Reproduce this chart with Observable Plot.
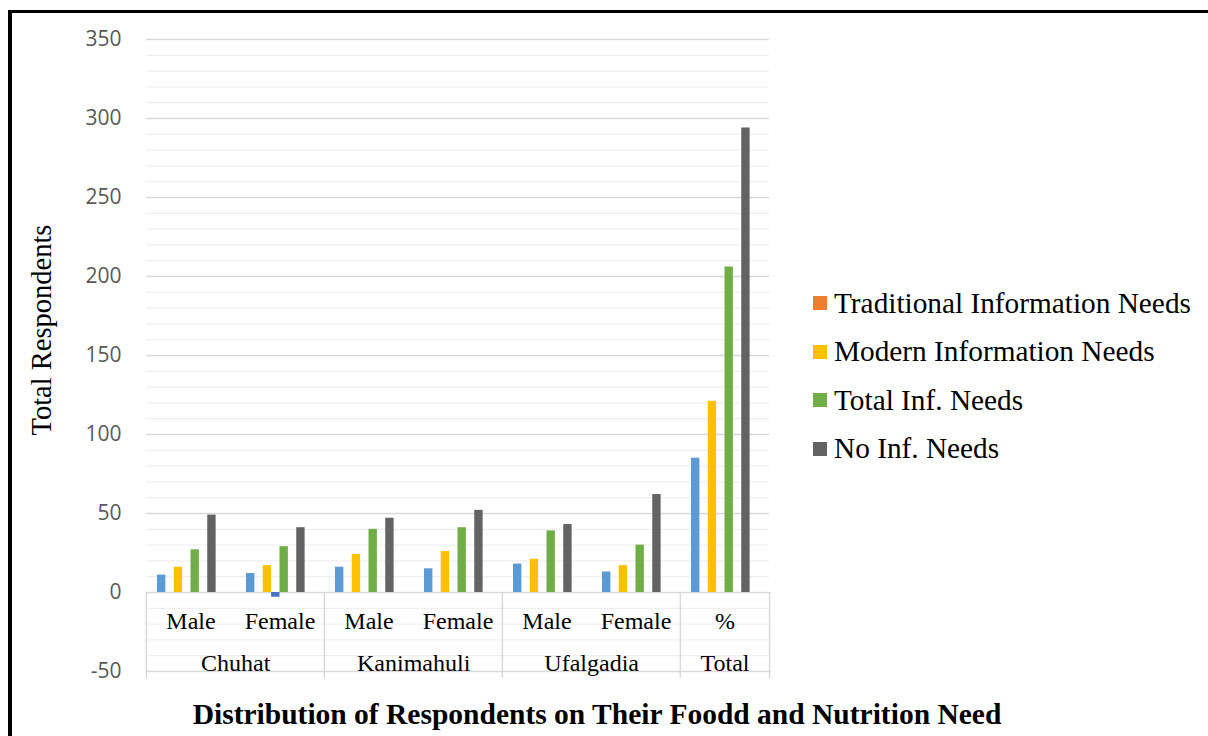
<!DOCTYPE html>
<html>
<head>
<meta charset="utf-8">
<script src="https://cdn.jsdelivr.net/npm/d3@7"></script>
<script src="https://cdn.jsdelivr.net/npm/@observablehq/plot@0.6"></script>
<style>
  body { margin: 0; background: #fff; }
  #chart { position: relative; width: 1208px; height: 736px; overflow: hidden; background: #fff; }
  #chart svg { display: block; }
  .frame-line { position: absolute; left: 8px; top: 10px; right: 0; bottom: 0;
    border-left: 4px solid #000; border-top: 3px solid #000; pointer-events: none; }
  #ylabel { position: absolute; left: 42px; top: 330px; transform: translate(-50%, -50%) rotate(-90deg);
    font-family: "Liberation Serif", serif; font-size: 28.5px; line-height: 1; white-space: nowrap; color: #000; }
  #legend { position: absolute; left: 813px; top: 279px; font-family: "Liberation Serif", serif;
    font-size: 29.3px; color: #000; }
  #legend .row { display: flex; align-items: center; height: 48.5px; }
  #legend .sw { width: 14px; height: 14px; margin-right: 7px; flex: none; }
  #legend .txt { line-height: 1; white-space: nowrap; }
  #title { position: absolute; left: 0; width: 1194px; top: 700px; text-align: center;
    font-family: "Liberation Serif", serif; font-weight: bold; font-size: 29.5px; line-height: 1;
    white-space: nowrap; color: #000; }
</style>
</head>
<body>
<div id="chart">
  <div id="plot"></div>
  <div id="ylabel">Total Respondents</div>
  <div id="legend"></div>
  <div id="title">Distribution of Respondents on Their Foodd and Nutrition Need</div>
  <div class="frame-line"></div>
</div>
<script>
// Respondents by union and gender, plus the overall total
const groups    = ["Chuhat", "Chuhat", "Kanimahuli", "Kanimahuli", "Ufalgadia", "Ufalgadia", "Total"];
const subgroups = ["Male", "Female", "Male", "Female", "Male", "Female", "%"];

const traditional = [11, 12, 16, 15, 18, 13, 85];
const modern      = [16, 17, 24, 26, 21, 17, 121];
const totalNeeds  = [27, 29, 40, 41, 39, 30, 206];
const noNeeds     = [49, 41, 47, 52, 43, 62, 294];
const unlabelled  = [0, -3, 0, 0, 0, 0, 0];

const legendNames  = ["Traditional Information Needs", "Modern Information Needs", "Total Inf. Needs", "No Inf. Needs"];
const legendColors = ["#ED7D31", "#FFC000", "#70AD47", "#636363"];

const yMajorTicks = [-50, 0, 50, 100, 150, 200, 250, 300, 350];
const yMinorTicks = d3.range(-50, 351, 10).filter(v => v % 50 !== 0);

// Slots inside each category band (empty slots keep the spacing between bars)
const slots = ["traditional", "gapA", "modern", "unlabelled", "total", "gapB", "none", "gapC"];
const seriesColors = {
  traditional: "#5B9BD5",
  modern: "#FFC000",
  unlabelled: "#4472C4",
  total: "#70AD47",
  none: "#636363"
};

const keys = subgroups.map((s, i) => `${groups[i]}|${s}`);

const bars = [];
keys.forEach((key, i) => {
  bars.push({key, series: "traditional", value: traditional[i]});
  bars.push({key, series: "modern", value: modern[i]});
  if (unlabelled[i] !== 0) bars.push({key, series: "unlabelled", value: unlabelled[i]});
  bars.push({key, series: "total", value: totalNeeds[i]});
  bars.push({key, series: "none", value: noNeeds[i]});
});

const subLabels = keys.map((key, i) => ({key, text: subgroups[i]}));

// First category of each group, and how many categories the group spans
const groupLabels = [];
keys.forEach((key, i) => {
  if (i === 0 || groups[i] !== groups[i - 1]) groupLabels.push({key, text: groups[i], span: 1});
  else groupLabels[groupLabels.length - 1].span++;
});
const groupStarts = groupLabels.map(g => g.key);

const width = 1208, marginLeft = 145, marginRight = 438;
const bandWidth = (width - marginLeft - marginRight) / keys.length;
const serif = "Liberation Serif";
const tableStroke = "#d9d9d9";

const plot = Plot.plot({
  width,
  height: 690,
  marginLeft,
  marginRight,
  marginTop: 39,
  marginBottom: 19,
  style: {fontFamily: "Open Sans", fontSize: "20px", background: "transparent", overflow: "visible"},
  fx: {domain: keys, padding: 0, axis: null},
  x: {domain: slots, padding: 0, inset: 11, round: false, axis: null},
  y: {domain: [-50, 350]},
  color: {domain: Object.keys(seriesColors), range: Object.values(seriesColors)},
  marks: [
    Plot.gridY(yMinorTicks, {stroke: "#efefef", strokeOpacity: 1, strokeWidth: 1.3}),
    Plot.gridY(yMajorTicks, {stroke: tableStroke, strokeOpacity: 1, strokeWidth: 1.3}),
    Plot.axisY(yMajorTicks, {tickSize: 0, tickPadding: 25, tickFormat: d => String(d), color: "#595959", fontSize: 21, fontFamily: "Open Sans", label: null}),
    // category table borders below the zero line
    Plot.ruleX(groupStarts, {fx: d => d, x: null, y1: 0, y2: -50, insetBottom: -7, dx: -bandWidth / 2, stroke: tableStroke, strokeWidth: 1.5}),
    Plot.ruleX([keys[keys.length - 1]], {fx: d => d, x: null, y1: 0, y2: -50, insetBottom: -7, dx: bandWidth / 2, stroke: tableStroke, strokeWidth: 1.5}),
    Plot.barY(bars, {fx: "key", x: "series", y1: 0, y2: "value", fill: "series"}),
    Plot.text(subLabels, {fx: "key", text: "text", y: -18, fontFamily: serif, fontSize: 24, fill: "#000"}),
    Plot.text(groupLabels.filter(g => g.span > 1), {fx: "key", text: "text", y: -45, dx: bandWidth / 2, fontFamily: serif, fontSize: 24, fill: "#000"}),
    Plot.text(groupLabels.filter(g => g.span === 1), {fx: "key", text: "text", y: -45, fontFamily: serif, fontSize: 24, fill: "#000"})
  ]
});
document.getElementById("plot").append(plot);

const legend = document.getElementById("legend");
legendNames.forEach((name, i) => {
  const row = document.createElement("div");
  row.className = "row";
  const sw = document.createElement("span");
  sw.className = "sw";
  sw.style.background = legendColors[i];
  const txt = document.createElement("span");
  txt.className = "txt";
  txt.textContent = name;
  row.append(sw, txt);
  legend.append(row);
});
</script>
</body>
</html>
